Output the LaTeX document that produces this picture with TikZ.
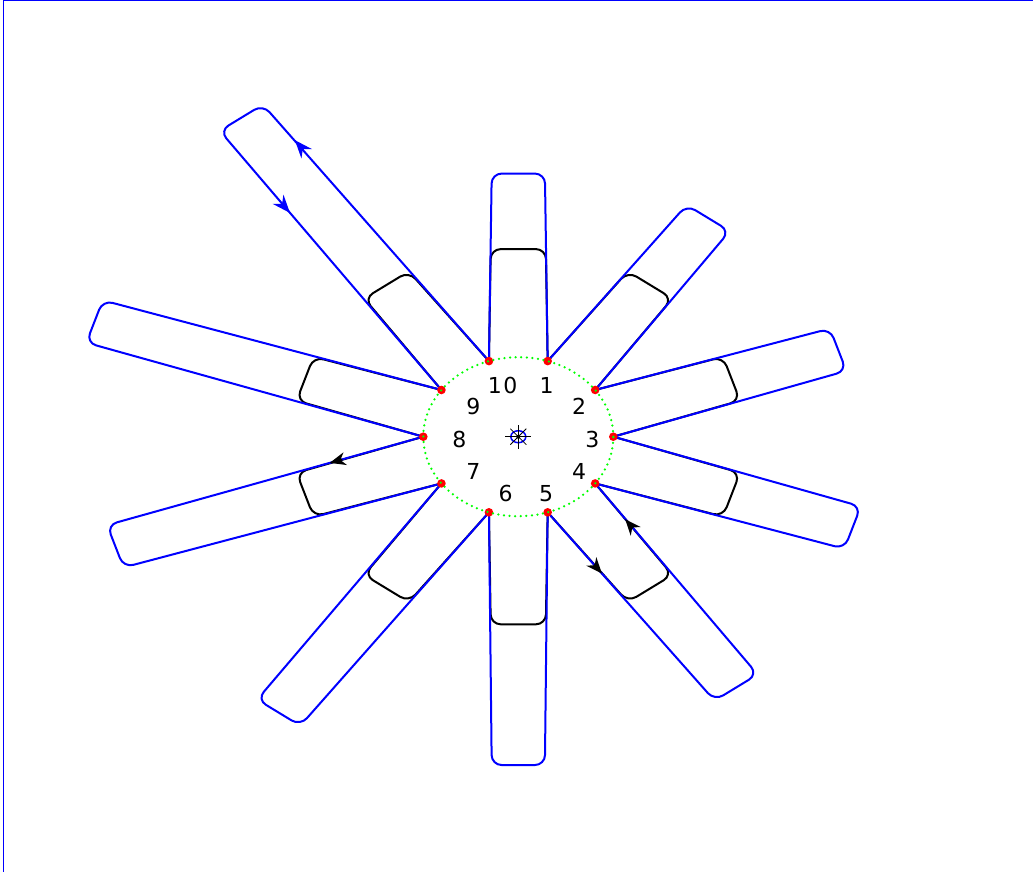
\documentclass[tikz,border=0pt]{standalone}
\usepackage{fontspec}
\setmainfont{DejaVu Sans}
\usetikzlibrary{calc,arrows.meta}
\definecolor{mblue}{RGB}{0,0,255}
\definecolor{mgreen}{RGB}{0,255,0}
\definecolor{mred}{RGB}{255,0,0}
\tikzset{
  bluepetal/.style={draw=mblue, line width=2pt, rounded corners=10pt, line join=round},
  blackpetal/.style={draw=black, line width=2pt, rounded corners=10pt, line join=round},
  ringline/.style={draw=mgreen, line width=2.5pt, line cap=round, dash pattern=on 0pt off 5.6pt},
  reddot/.style={fill=mred},
  lbl/.style={inner sep=0pt, font=\fontsize{22}{24}\selectfont},
  barrow/.style={draw=mblue, line width=2pt, -{Stealth[length=18pt,width=14pt,inset=6pt]}},
  karrow/.style={draw=black, line width=2pt, -{Stealth[length=16pt,width=13pt,inset=5pt]}},
  framebox/.style={draw=mblue, line width=1.3pt},
  starline/.style={draw=black, line width=0.8pt},
}
\begin{document}
\begin{tikzpicture}[x=1pt,y=-1pt]
\clip (0,0) rectangle (1033,872);
\useasboundingbox (0,0) rectangle (1033,872);
\draw[framebox] (3.3,900) -- (3.3,0.7) -- (1100,0.7);
\begin{scope}[shift={(518.3,436.7)}, x=95pt, y=79.5pt]
  \foreach \i in {1,...,10} {
    \pgfmathsetmacro\ang{108-36*\i}
    \coordinate (d\i) at (\ang:1);
  }
  % black loops
  \foreach \j/\p in {1/10,2/1,3/2,4/3,5/4,6/5,7/6,8/7,9/8,10/9} {
    \pgfmathsetmacro\th{126-36*\j}
    \pgfmathsetmacro\ta{\th-90}
    \pgfmathsetmacro\tb{\th+90}
    \draw[blackpetal] (d\j) -- ($(\th:2.36)+(\ta:0.29)$) -- ($(\th:2.36)+(\tb:0.29)$) -- (d\p);
  }
  % blue loops
  \foreach \j/\p/\L in {1/10/3.31,2/1/3.40,3/2/3.54,4/3/3.70,5/4/3.90,6/5/4.13,7/6/4.29,8/7/4.46,9/8/4.69,10/9/4.96} {
    \pgfmathsetmacro\th{126-36*\j}
    \pgfmathsetmacro\ta{\th-90}
    \pgfmathsetmacro\tb{\th+90}
    \draw[bluepetal] (d\j) -- ($(\th:\L)+(\ta:0.28)$) -- ($(\th:\L)+(\tb:0.28)$) -- (d\p);
  }
  % arrows
  \draw[barrow] ($(126:4.25)+(36:0.29)$) -- ($(126:4.40)+(36:0.29)$);
  \draw[barrow] ($(126:3.84)+(216:0.29)$) -- ($(126:3.69)+(216:0.29)$);
  \draw[karrow] ($(198:1.85)+(108:0.30)$) -- ($(198:1.99)+(108:0.30)$);
  \draw[karrow] ($(306:1.77)+(216:0.30)$) -- ($(306:1.91)+(216:0.30)$);
  \draw[karrow] ($(306:1.64)+(36:0.30)$) -- ($(306:1.50)+(36:0.30)$);
  % red dots
  \foreach \i in {1,...,10} { \fill[reddot] (d\i) circle [radius=4.3pt]; }
  % green ring
  \draw[ringline] (0,0) circle [radius=1];
  % centre marker
  \coordinate (c) at (0,0);
  \draw[mblue, line width=1.5pt] (c) ellipse [x radius=7.5pt, y radius=6pt];
  \draw[starline] (-13pt,0pt) -- (13pt,0pt);
  \draw[starline] (0pt,-12pt) -- (0pt,12pt);
  \draw[starline] (-8pt,-8pt) -- (8pt,8pt);
  \draw[starline] (-8pt,8pt) -- (8pt,-8pt);
  \fill[black] (c) circle [radius=2pt];
\end{scope}
\node[lbl] (l10) at (502.7,385.7) {1\kern1.5pt0};
\node[lbl] (l1) at (546.7,385.7) {1};
\node[lbl] (l2) at (579,406.7) {2};
\node[lbl] (l3) at (592.3,439) {3};
\node[lbl] (l4) at (579,471.7) {4};
\node[lbl] (l5) at (546,493.3) {5};
\node[lbl] (l6) at (505.7,493.3) {6};
\node[lbl] (l7) at (473.3,471.7) {7};
\node[lbl] (l8) at (459.3,439) {8};
\node[lbl] (l9) at (473.3,406.7) {9};
\end{tikzpicture}
\end{document}
